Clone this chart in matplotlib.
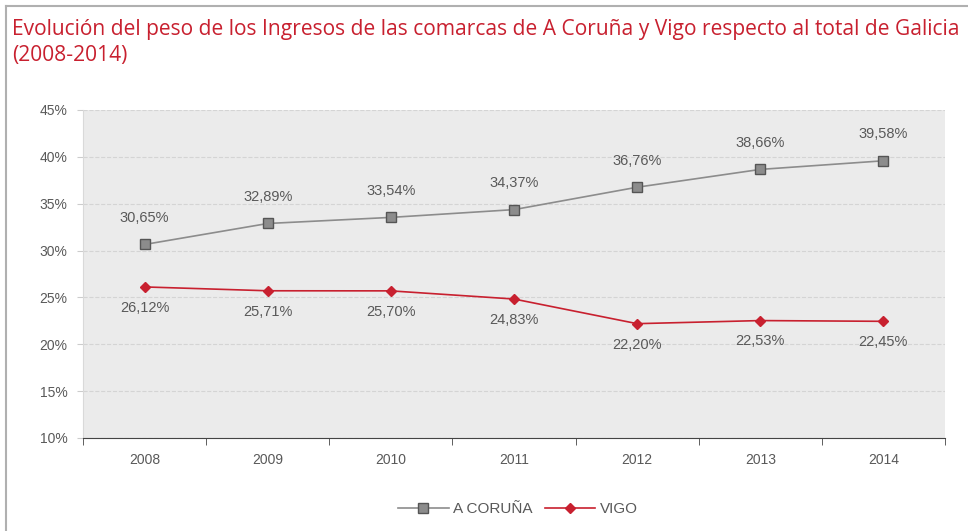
import matplotlib.pyplot as plt
from matplotlib.lines import Line2D
import numpy as np

years = ['2008', '2009', '2010', '2011', '2012', '2013', '2014']
coruna = [30.65, 32.89, 33.54, 34.37, 36.76, 38.66, 39.58]
vigo = [26.12, 25.71, 25.70, 24.83, 22.20, 22.53, 22.45]
yticks = [10, 15, 20, 25, 30, 35, 40, 45]

GRAY = '#8c8c8c'
RED = '#c8202f'
TXT = '#595959'

plt.rcParams['font.family'] = ['Liberation Sans', 'DejaVu Sans']

W, H = 968, 531
fig = plt.figure(figsize=(W / 100, H / 100), dpi=100)
ax = fig.add_axes([83 / W, 1 - 438 / H, (945 - 83) / W, (438 - 110) / H])
ax.set_facecolor('#ebebeb')

x = np.arange(len(years))
ax.plot(x, coruna, color=GRAY, lw=1.2, marker='s', ms=7,
        mfc=GRAY, mec='#555555', mew=1, label='A CORUÑA', zorder=3)
ax.plot(x, vigo, color=RED, lw=1.2, marker='D', ms=5,
        mfc=RED, mec=RED, label='VIGO', zorder=3)

for i in x:
    ax.annotate(f'{coruna[i]:.2f}%'.replace('.', ','), (i, coruna[i]),
                xytext=(0, 14), textcoords='offset points', ha='center',
                va='bottom', color=TXT, fontsize=10.5)
    ax.annotate(f'{vigo[i]:.2f}%'.replace('.', ','), (i, vigo[i]),
                xytext=(0, -10), textcoords='offset points', ha='center',
                va='top', color=TXT, fontsize=10.5)

ax.set_xlim(-0.5, len(years) - 0.5)
ax.set_ylim(10, 45)
ax.set_yticks(yticks)
ax.set_yticklabels([f'{v}%' for v in yticks], color=TXT, fontsize=10)
ax.set_xticks(x)
ax.set_xticklabels(years, color=TXT, fontsize=10)
ax.set_xticks(np.arange(-0.5, len(years)), minor=True)
ax.tick_params(axis='x', which='major', length=0, pad=11)
ax.tick_params(axis='x', which='minor', length=5, color='#444444')
ax.tick_params(axis='y', length=4, color='#cccccc', pad=7)

ax.grid(axis='y', color='#d4d4d4', ls='--', lw=0.8)
ax.set_axisbelow(True)
for s in ['top', 'right']:
    ax.spines[s].set_visible(False)
ax.spines['left'].set_color('#d9d9d9')
ax.spines['bottom'].set_color('#444444')

leg = fig.legend(loc='center', bbox_to_anchor=(518 / W, 1 - 509 / H), ncol=2,
                 frameon=False, fontsize=11, handlelength=3.3,
                 columnspacing=0.8, handletextpad=0.3)
for t in leg.get_texts():
    t.set_color(TXT)

title_font = ['Open Sans', 'DejaVu Sans']
fig.text(12 / W, 1 - 30 / H,
         'Evolución del peso de los Ingresos de las comarcas de A Coruña y Vigo respecto al total de Galicia',
         color=RED, fontsize=15.1, family=title_font, va='center')
fig.text(12 / W, 1 - 55 / H, '(2008-2014)', color=RED, fontsize=15.1,
         family=title_font, va='center')

fig.add_artist(Line2D([6 / W, 1], [1 - 6 / H, 1 - 6 / H], color='#b0b0b0', lw=1.5))
fig.add_artist(Line2D([6 / W, 6 / W], [0, 1 - 6 / H], color='#b0b0b0', lw=1.5))

fig.savefig('out.png', dpi=100)
